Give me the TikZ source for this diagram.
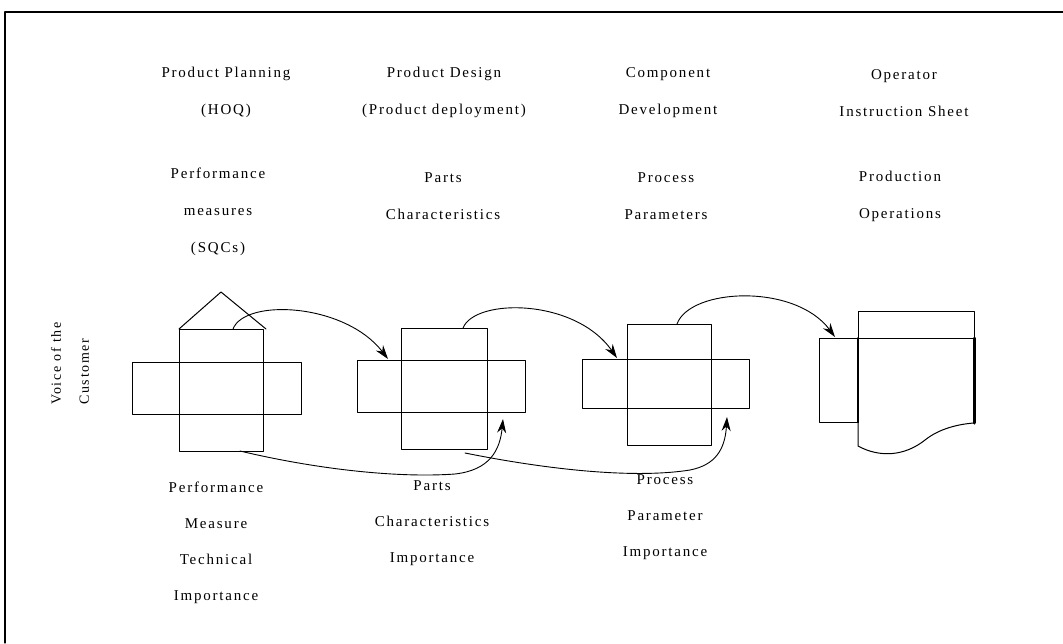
\documentclass[tikz,border=0pt]{standalone}
\usepackage{fontspec}
\setmainfont{Liberation Serif}[LetterSpace=12]
\usetikzlibrary{arrows.meta}

\begin{document}
\begin{tikzpicture}[x=1pt,y=-1pt,line cap=round,line join=round,
    lbl/.style={align=center,inner sep=0pt,font=\fontsize{15}{37}\selectfont},
    sublbl/.style={align=center,inner sep=0pt,font=\fontsize{15}{36}\selectfont},
    flow/.style={-{Stealth[length=14pt,width=9pt]},line width=0.9pt}]
  \useasboundingbox (0,0) rectangle (1063,643);
  \draw[line width=1.3pt] (1063,12) -- (5,12) -- (5,643);
  % stage titles
  \node[lbl] (plan) at (226,92) {Product Planning\\(HOQ)};
  \node[lbl] (design) at (444,92) {Product Design\\(Product deployment)};
  \node[lbl] (comp) at (668,93) {Component\\Development};
  \node[lbl] (oper) at (904,93) {Operator\\Instruction Sheet};
  \node[lbl] (perf) at (218,212) {Performance\\measures\\(SQCs)};
  \node[lbl] (parts) at (443,196) {Parts\\Characteristics};
  \node[lbl] (proc) at (666,196) {Process\\Parameters};
  \node[lbl] (prod) at (900,196) {Production\\Operations};
  \node[sublbl,font=\fontsize{14}{28}\selectfont,align=left,rotate=90,anchor=west] (voice) at (70,405) {Voice of the\\Customer};
  % matrices
  \foreach \l/\a/\b/\r/\t/\u/\v/\w in {132/179/263/301/329/362/414/451,
      357/401/487/525/328/360/412/449, 582/627/711/749/324/359/408/445} {
    \draw[line width=1pt] (\a,\t) rectangle (\b,\w);
    \draw[line width=1pt] (\l,\u) rectangle (\r,\v);
  }
  \draw[line width=1pt] (179,329) -- (221,292) -- (266,329);
  \draw[line width=1pt] (858,311) rectangle (974,338);
  \draw[line width=1pt] (819,338) rectangle (858,422);
  \draw[line width=1pt] (858,338) -- (974,338);
  \draw[line width=2pt] (858,338) -- (858,422);
  \draw[line width=3pt] (974,338) -- (974,423);
  \draw[line width=1pt] (858,422) -- (858,446) .. controls (880,458) and (905,456) .. (925,440)
    .. controls (940,428) and (960,424) .. (974,423);
  % importance rows
  \node[sublbl] (pmti) at (216,543) {Performance\\Measure\\Technical\\Importance};
  \node[sublbl] (pci) at (432,523) {Parts\\Characteristics\\Importance};
  \node[sublbl] (ppi) at (665,517) {Process\\Parameter\\Importance};
  % connectors
  \coordinate (hoqtop) at (233,329);
  \coordinate (pdtop) at (463,328);
  \coordinate (cdtop) at (677,324);
  \coordinate (pdin) at (388,359);
  \coordinate (cdin) at (617,358);
  \coordinate (oiin) at (835,337);
  \coordinate (hoqbot) at (240,451);
  \coordinate (pdbot) at (465,453);
  \coordinate (pdimp) at (503,419);
  \coordinate (cdimp) at (727,417);
  \draw[flow] (hoqtop) .. controls (245,298) and (345,303) .. (pdin);
  \draw[flow] (pdtop) .. controls (475,298) and (575,298) .. (cdin);
  \draw[flow] (cdtop) .. controls (690,288) and (795,283) .. (oiin);
  \draw[flow] (hoqbot) .. controls (320,470) and (400,478) .. (455,474)
    .. controls (490,470) and (500,450) .. (pdimp);
  \draw[flow] (pdbot) .. controls (560,472) and (640,478) .. (690,470)
    .. controls (715,465) and (725,450) .. (cdimp);
\end{tikzpicture}
\end{document}
